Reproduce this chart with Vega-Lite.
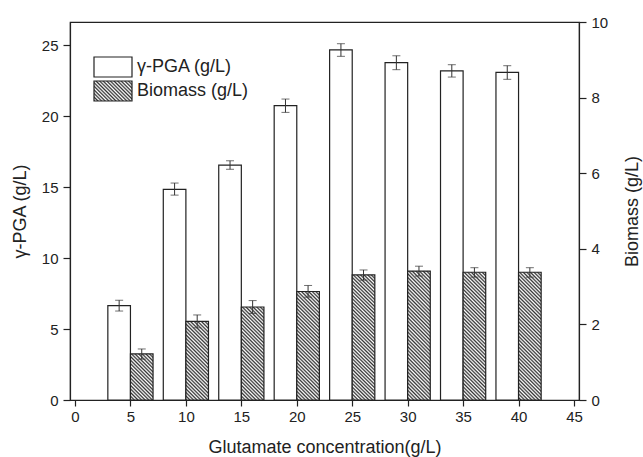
{
 "$schema": "https://vega.github.io/schema/vega-lite/v6.json",
 "width": 509, "height": 378,
 "autosize": {"type": "none"},
 "padding": {"left": 70, "top": 22, "right": 64, "bottom": 57},
 "background": "white",
 "config": {
  "font": "Liberation Sans",
  "view": {"stroke": "#222", "strokeWidth": 1.2},
  "axis": {"grid": false, "domainColor": "#222", "domainWidth": 1.2, "tickColor": "#222", "tickWidth": 1.2, "labelColor": "#222", "labelFont": "Liberation Sans", "labelFontSize": 15, "titleFont": "Liberation Sans", "titleFontSize": 18, "titleFontWeight": "normal", "titleColor": "#222", "labelOverlap": false, "labelFlush": false}
 },
 "data": {"values": [
  {"conc": 5, "pga": 6.65, "pga_lo": 6.27, "pga_hi": 7.03, "bio": 1.22, "bio_lo": 1.08, "bio_hi": 1.35},
  {"conc": 10, "pga": 14.85, "pga_lo": 14.44, "pga_hi": 15.29, "bio": 2.08, "bio_lo": 1.91, "bio_hi": 2.25},
  {"conc": 15, "pga": 16.56, "pga_lo": 16.26, "pga_hi": 16.86, "bio": 2.46, "bio_lo": 2.29, "bio_hi": 2.63},
  {"conc": 20, "pga": 20.74, "pga_lo": 20.27, "pga_hi": 21.21, "bio": 2.87, "bio_lo": 2.72, "bio_hi": 3.03},
  {"conc": 25, "pga": 24.67, "pga_lo": 24.22, "pga_hi": 25.11, "bio": 3.31, "bio_lo": 3.17, "bio_hi": 3.44},
  {"conc": 30, "pga": 23.77, "pga_lo": 23.28, "pga_hi": 24.26, "bio": 3.41, "bio_lo": 3.28, "bio_hi": 3.54},
  {"conc": 35, "pga": 23.19, "pga_lo": 22.76, "pga_hi": 23.63, "bio": 3.38, "bio_lo": 3.25, "bio_hi": 3.5},
  {"conc": 40, "pga": 23.09, "pga_lo": 22.6, "pga_hi": 23.56, "bio": 3.38, "bio_lo": 3.25, "bio_hi": 3.5}
 ]},
 "layer": [
  {"layer": [
   {"mark": {"type": "bar", "width": 22.6, "xOffset": -11.3, "fill": "white", "stroke": "#222", "strokeWidth": 1.2},
    "encoding": {
     "x": {"field": "conc", "type": "quantitative", "title": "Glutamate concentration(g/L)", "scale": {"domain": [0, 45], "nice": false},
      "axis": {"values": [0,2.5,5,7.5,10,12.5,15,17.5,20,22.5,25,27.5,30,32.5,35,37.5,40,42.5,45],
       "labelExpr": "datum.value % 5 === 0 ? '' + datum.value : ''",
       "tickSize": {"condition": {"test": "datum.value % 5 !== 0", "value": 4}, "value": 6},
       "labelPadding": 3, "titlePadding": 14}},
     "y": {"field": "pga", "type": "quantitative", "title": "γ-PGA (g/L)", "scale": {"domain": [0, 26.64], "nice": false},
      "axis": {"values": [0,2.5,5,7.5,10,12.5,15,17.5,20,22.5,25],
       "labelExpr": "datum.value % 5 === 0 ? '' + datum.value : ''",
       "tickSize": {"condition": {"test": "datum.value % 5 !== 0", "value": 4}, "value": 7},
       "labelPadding": 5, "titlePadding": 12}},
     "opacity": {"datum": "γ-PGA (g/L)", "type": "nominal",
      "scale": {"domain": ["γ-PGA (g/L)", "Biomass (g/L)"], "range": [1, 1]},
      "legend": {"orient": "none", "legendX": 23, "legendY": 34, "title": null, "padding": 0, "offset": 0,
       "symbolType": "M-1.9,-1H1.9V1H-1.9Z", "symbolSize": 400, "symbolOffset": 9,
       "symbolStrokeColor": "#222", "symbolStrokeWidth": 1.2,
       "labelFont": "Liberation Sans", "labelFontSize": 18, "labelColor": "#222", "labelOffset": 13, "rowPadding": -10,
       "encoding": {"symbols": {
        "stroke": {"value": "#222"}, "strokeWidth": {"value": 1.2},
        "fill": {"condition": {"test": "datum.value === 'Biomass (g/L)'", "value": {"gradient": "linear", "x1": 1, "y1": 0, "x2": -2.19, "y2": 1.679, "stops": [
{"offset":0,"color":"#333"},{"offset":0.0116,"color":"#fff"},{"offset":0.0233,"color":"#333"},{"offset":0.0349,"color":"#fff"},{"offset":0.0465,"color":"#333"},{"offset":0.0581,"color":"#fff"},{"offset":0.0698,"color":"#333"},{"offset":0.0814,"color":"#fff"},{"offset":0.093,"color":"#333"},{"offset":0.1047,"color":"#fff"},{"offset":0.1163,"color":"#333"},{"offset":0.1279,"color":"#fff"},{"offset":0.1395,"color":"#333"},{"offset":0.1512,"color":"#fff"},{"offset":0.1628,"color":"#333"},{"offset":0.1744,"color":"#fff"},{"offset":0.186,"color":"#333"},{"offset":0.1977,"color":"#fff"},{"offset":0.2093,"color":"#333"},{"offset":0.2209,"color":"#fff"},{"offset":0.2326,"color":"#333"},{"offset":0.2442,"color":"#fff"},{"offset":0.2558,"color":"#333"},{"offset":0.2674,"color":"#fff"},{"offset":0.2791,"color":"#333"},{"offset":0.2907,"color":"#fff"},{"offset":0.3023,"color":"#333"},{"offset":0.314,"color":"#fff"},{"offset":0.3256,"color":"#333"},{"offset":0.3372,"color":"#fff"},{"offset":0.3488,"color":"#333"},{"offset":0.3605,"color":"#fff"},{"offset":0.3721,"color":"#333"},{"offset":0.3837,"color":"#fff"},{"offset":0.3953,"color":"#333"}
        ]}}, "value": "white"}
       }}}}
    }},
   {"mark": {"type": "rule", "xOffset": -11.3, "color": "#333", "strokeWidth": 1},
    "encoding": {
     "x": {"field": "conc", "type": "quantitative", "title": "Glutamate concentration(g/L)", "scale": {"domain": [0, 45], "nice": false}},
     "y": {"field": "pga_lo", "type": "quantitative", "title": "γ-PGA (g/L)", "scale": {"domain": [0, 26.64], "nice": false}},
     "y2": {"field": "pga_hi"}}},
   {"mark": {"type": "tick", "orient": "horizontal", "xOffset": -11.3, "color": "#333", "size": 8, "thickness": 1},
    "encoding": {
     "x": {"field": "conc", "type": "quantitative", "title": "Glutamate concentration(g/L)", "scale": {"domain": [0, 45], "nice": false}},
     "y": {"field": "pga_lo", "type": "quantitative", "title": "γ-PGA (g/L)", "scale": {"domain": [0, 26.64], "nice": false}}}},
   {"mark": {"type": "tick", "orient": "horizontal", "xOffset": -11.3, "color": "#333", "size": 8, "thickness": 1},
    "encoding": {
     "x": {"field": "conc", "type": "quantitative", "title": "Glutamate concentration(g/L)", "scale": {"domain": [0, 45], "nice": false}},
     "y": {"field": "pga_hi", "type": "quantitative", "title": "γ-PGA (g/L)", "scale": {"domain": [0, 26.64], "nice": false}}}}
  ]},
  {"layer": [
   {"mark": {"type": "bar", "width": 22.6, "xOffset": 11.3, "stroke": "#222", "strokeWidth": 1.2},
    "encoding": {
     "x": {"field": "conc", "type": "quantitative", "title": "Glutamate concentration(g/L)", "scale": {"domain": [0, 45], "nice": false}},
     "y": {"field": "bio", "type": "quantitative", "title": "Biomass (g/L)", "scale": {"domain": [0, 10], "nice": false},
      "axis": {"orient": "right", "titleAngle": -90, "values": [0,1,2,3,4,5,6,7,8,9,10],
       "labelExpr": "datum.value % 2 === 0 ? '' + datum.value : ''",
       "tickSize": {"condition": {"test": "datum.value % 2 !== 0", "value": 4}, "value": 7},
       "labelPadding": 5, "titlePadding": 34}},
     "fill": {
      "condition": [
       {"test": "datum.conc === 5", "value": {"gradient": "linear", "x1": 1, "y1": 0, "x2": -0.327, "y2": 2.706, "stops": [
{"offset":0,"color":"#333"},{"offset":0.0116,"color":"#fff"},{"offset":0.0233,"color":"#333"},{"offset":0.0349,"color":"#fff"},{"offset":0.0465,"color":"#333"},{"offset":0.0581,"color":"#fff"},{"offset":0.0698,"color":"#333"},{"offset":0.0814,"color":"#fff"},{"offset":0.093,"color":"#333"},{"offset":0.1047,"color":"#fff"},{"offset":0.1163,"color":"#333"},{"offset":0.1279,"color":"#fff"},{"offset":0.1395,"color":"#333"},{"offset":0.1512,"color":"#fff"},{"offset":0.1628,"color":"#333"},{"offset":0.1744,"color":"#fff"},{"offset":0.186,"color":"#333"},{"offset":0.1977,"color":"#fff"},{"offset":0.2093,"color":"#333"},{"offset":0.2209,"color":"#fff"},{"offset":0.2326,"color":"#333"},{"offset":0.2442,"color":"#fff"},{"offset":0.2558,"color":"#333"},{"offset":0.2674,"color":"#fff"},{"offset":0.2791,"color":"#333"},{"offset":0.2907,"color":"#fff"},{"offset":0.3023,"color":"#333"},{"offset":0.314,"color":"#fff"},{"offset":0.3256,"color":"#333"},{"offset":0.3372,"color":"#fff"},{"offset":0.3488,"color":"#333"},{"offset":0.3605,"color":"#fff"},{"offset":0.3721,"color":"#333"},{"offset":0.3837,"color":"#fff"},{"offset":0.3953,"color":"#333"},{"offset":0.407,"color":"#fff"},{"offset":0.4186,"color":"#333"},{"offset":0.4302,"color":"#fff"},{"offset":0.4419,"color":"#333"},{"offset":0.4535,"color":"#fff"}
       ]}},
       {"test": "datum.conc === 10", "value": {"gradient": "linear", "x1": 1, "y1": 0, "x2": 0.4768, "y2": 1.8185, "stops": [
{"offset":0,"color":"#333"},{"offset":0.0116,"color":"#fff"},{"offset":0.0233,"color":"#333"},{"offset":0.0349,"color":"#fff"},{"offset":0.0465,"color":"#333"},{"offset":0.0581,"color":"#fff"},{"offset":0.0698,"color":"#333"},{"offset":0.0814,"color":"#fff"},{"offset":0.093,"color":"#333"},{"offset":0.1047,"color":"#fff"},{"offset":0.1163,"color":"#333"},{"offset":0.1279,"color":"#fff"},{"offset":0.1395,"color":"#333"},{"offset":0.1512,"color":"#fff"},{"offset":0.1628,"color":"#333"},{"offset":0.1744,"color":"#fff"},{"offset":0.186,"color":"#333"},{"offset":0.1977,"color":"#fff"},{"offset":0.2093,"color":"#333"},{"offset":0.2209,"color":"#fff"},{"offset":0.2326,"color":"#333"},{"offset":0.2442,"color":"#fff"},{"offset":0.2558,"color":"#333"},{"offset":0.2674,"color":"#fff"},{"offset":0.2791,"color":"#333"},{"offset":0.2907,"color":"#fff"},{"offset":0.3023,"color":"#333"},{"offset":0.314,"color":"#fff"},{"offset":0.3256,"color":"#333"},{"offset":0.3372,"color":"#fff"},{"offset":0.3488,"color":"#333"},{"offset":0.3605,"color":"#fff"},{"offset":0.3721,"color":"#333"},{"offset":0.3837,"color":"#fff"},{"offset":0.3953,"color":"#333"},{"offset":0.407,"color":"#fff"},{"offset":0.4186,"color":"#333"},{"offset":0.4302,"color":"#fff"},{"offset":0.4419,"color":"#333"},{"offset":0.4535,"color":"#fff"},{"offset":0.4651,"color":"#333"},{"offset":0.4767,"color":"#fff"},{"offset":0.4884,"color":"#333"},{"offset":0.5,"color":"#fff"},{"offset":0.5116,"color":"#333"},{"offset":0.5233,"color":"#fff"},{"offset":0.5349,"color":"#333"},{"offset":0.5465,"color":"#fff"},{"offset":0.5581,"color":"#333"},{"offset":0.5698,"color":"#fff"},{"offset":0.5814,"color":"#333"},{"offset":0.593,"color":"#fff"},{"offset":0.6047,"color":"#333"},{"offset":0.6163,"color":"#fff"},{"offset":0.6279,"color":"#333"},{"offset":0.6395,"color":"#fff"},{"offset":0.6512,"color":"#333"},{"offset":0.6628,"color":"#fff"}
       ]}},
       {"test": "datum.conc === 15", "value": {"gradient": "linear", "x1": 1, "y1": 0, "x2": 0.6177, "y2": 1.5717, "stops": [
{"offset":0,"color":"#333"},{"offset":0.0116,"color":"#fff"},{"offset":0.0233,"color":"#333"},{"offset":0.0349,"color":"#fff"},{"offset":0.0465,"color":"#333"},{"offset":0.0581,"color":"#fff"},{"offset":0.0698,"color":"#333"},{"offset":0.0814,"color":"#fff"},{"offset":0.093,"color":"#333"},{"offset":0.1047,"color":"#fff"},{"offset":0.1163,"color":"#333"},{"offset":0.1279,"color":"#fff"},{"offset":0.1395,"color":"#333"},{"offset":0.1512,"color":"#fff"},{"offset":0.1628,"color":"#333"},{"offset":0.1744,"color":"#fff"},{"offset":0.186,"color":"#333"},{"offset":0.1977,"color":"#fff"},{"offset":0.2093,"color":"#333"},{"offset":0.2209,"color":"#fff"},{"offset":0.2326,"color":"#333"},{"offset":0.2442,"color":"#fff"},{"offset":0.2558,"color":"#333"},{"offset":0.2674,"color":"#fff"},{"offset":0.2791,"color":"#333"},{"offset":0.2907,"color":"#fff"},{"offset":0.3023,"color":"#333"},{"offset":0.314,"color":"#fff"},{"offset":0.3256,"color":"#333"},{"offset":0.3372,"color":"#fff"},{"offset":0.3488,"color":"#333"},{"offset":0.3605,"color":"#fff"},{"offset":0.3721,"color":"#333"},{"offset":0.3837,"color":"#fff"},{"offset":0.3953,"color":"#333"},{"offset":0.407,"color":"#fff"},{"offset":0.4186,"color":"#333"},{"offset":0.4302,"color":"#fff"},{"offset":0.4419,"color":"#333"},{"offset":0.4535,"color":"#fff"},{"offset":0.4651,"color":"#333"},{"offset":0.4767,"color":"#fff"},{"offset":0.4884,"color":"#333"},{"offset":0.5,"color":"#fff"},{"offset":0.5116,"color":"#333"},{"offset":0.5233,"color":"#fff"},{"offset":0.5349,"color":"#333"},{"offset":0.5465,"color":"#fff"},{"offset":0.5581,"color":"#333"},{"offset":0.5698,"color":"#fff"},{"offset":0.5814,"color":"#333"},{"offset":0.593,"color":"#fff"},{"offset":0.6047,"color":"#333"},{"offset":0.6163,"color":"#fff"},{"offset":0.6279,"color":"#333"},{"offset":0.6395,"color":"#fff"},{"offset":0.6512,"color":"#333"},{"offset":0.6628,"color":"#fff"},{"offset":0.6744,"color":"#333"},{"offset":0.686,"color":"#fff"},{"offset":0.6977,"color":"#333"},{"offset":0.7093,"color":"#fff"},{"offset":0.7209,"color":"#333"},{"offset":0.7326,"color":"#fff"},{"offset":0.7442,"color":"#333"},{"offset":0.7558,"color":"#fff"}
       ]}},
       {"test": "datum.conc === 20", "value": {"gradient": "linear", "x1": 1, "y1": 0, "x2": 0.7149, "y2": 1.3674, "stops": [
{"offset":0,"color":"#333"},{"offset":0.0116,"color":"#fff"},{"offset":0.0233,"color":"#333"},{"offset":0.0349,"color":"#fff"},{"offset":0.0465,"color":"#333"},{"offset":0.0581,"color":"#fff"},{"offset":0.0698,"color":"#333"},{"offset":0.0814,"color":"#fff"},{"offset":0.093,"color":"#333"},{"offset":0.1047,"color":"#fff"},{"offset":0.1163,"color":"#333"},{"offset":0.1279,"color":"#fff"},{"offset":0.1395,"color":"#333"},{"offset":0.1512,"color":"#fff"},{"offset":0.1628,"color":"#333"},{"offset":0.1744,"color":"#fff"},{"offset":0.186,"color":"#333"},{"offset":0.1977,"color":"#fff"},{"offset":0.2093,"color":"#333"},{"offset":0.2209,"color":"#fff"},{"offset":0.2326,"color":"#333"},{"offset":0.2442,"color":"#fff"},{"offset":0.2558,"color":"#333"},{"offset":0.2674,"color":"#fff"},{"offset":0.2791,"color":"#333"},{"offset":0.2907,"color":"#fff"},{"offset":0.3023,"color":"#333"},{"offset":0.314,"color":"#fff"},{"offset":0.3256,"color":"#333"},{"offset":0.3372,"color":"#fff"},{"offset":0.3488,"color":"#333"},{"offset":0.3605,"color":"#fff"},{"offset":0.3721,"color":"#333"},{"offset":0.3837,"color":"#fff"},{"offset":0.3953,"color":"#333"},{"offset":0.407,"color":"#fff"},{"offset":0.4186,"color":"#333"},{"offset":0.4302,"color":"#fff"},{"offset":0.4419,"color":"#333"},{"offset":0.4535,"color":"#fff"},{"offset":0.4651,"color":"#333"},{"offset":0.4767,"color":"#fff"},{"offset":0.4884,"color":"#333"},{"offset":0.5,"color":"#fff"},{"offset":0.5116,"color":"#333"},{"offset":0.5233,"color":"#fff"},{"offset":0.5349,"color":"#333"},{"offset":0.5465,"color":"#fff"},{"offset":0.5581,"color":"#333"},{"offset":0.5698,"color":"#fff"},{"offset":0.5814,"color":"#333"},{"offset":0.593,"color":"#fff"},{"offset":0.6047,"color":"#333"},{"offset":0.6163,"color":"#fff"},{"offset":0.6279,"color":"#333"},{"offset":0.6395,"color":"#fff"},{"offset":0.6512,"color":"#333"},{"offset":0.6628,"color":"#fff"},{"offset":0.6744,"color":"#333"},{"offset":0.686,"color":"#fff"},{"offset":0.6977,"color":"#333"},{"offset":0.7093,"color":"#fff"},{"offset":0.7209,"color":"#333"},{"offset":0.7326,"color":"#fff"},{"offset":0.7442,"color":"#333"},{"offset":0.7558,"color":"#fff"},{"offset":0.7674,"color":"#333"},{"offset":0.7791,"color":"#fff"},{"offset":0.7907,"color":"#333"},{"offset":0.8023,"color":"#fff"},{"offset":0.814,"color":"#333"},{"offset":0.8256,"color":"#fff"},{"offset":0.8372,"color":"#333"},{"offset":0.8488,"color":"#fff"},{"offset":0.8605,"color":"#333"}
       ]}}
      ],
      "value": {"gradient": "linear", "x1": 1, "y1": 0, "x2": 0.7909, "y2": 1.1778, "stops": [
{"offset":0,"color":"#333"},{"offset":0.0116,"color":"#fff"},{"offset":0.0233,"color":"#333"},{"offset":0.0349,"color":"#fff"},{"offset":0.0465,"color":"#333"},{"offset":0.0581,"color":"#fff"},{"offset":0.0698,"color":"#333"},{"offset":0.0814,"color":"#fff"},{"offset":0.093,"color":"#333"},{"offset":0.1047,"color":"#fff"},{"offset":0.1163,"color":"#333"},{"offset":0.1279,"color":"#fff"},{"offset":0.1395,"color":"#333"},{"offset":0.1512,"color":"#fff"},{"offset":0.1628,"color":"#333"},{"offset":0.1744,"color":"#fff"},{"offset":0.186,"color":"#333"},{"offset":0.1977,"color":"#fff"},{"offset":0.2093,"color":"#333"},{"offset":0.2209,"color":"#fff"},{"offset":0.2326,"color":"#333"},{"offset":0.2442,"color":"#fff"},{"offset":0.2558,"color":"#333"},{"offset":0.2674,"color":"#fff"},{"offset":0.2791,"color":"#333"},{"offset":0.2907,"color":"#fff"},{"offset":0.3023,"color":"#333"},{"offset":0.314,"color":"#fff"},{"offset":0.3256,"color":"#333"},{"offset":0.3372,"color":"#fff"},{"offset":0.3488,"color":"#333"},{"offset":0.3605,"color":"#fff"},{"offset":0.3721,"color":"#333"},{"offset":0.3837,"color":"#fff"},{"offset":0.3953,"color":"#333"},{"offset":0.407,"color":"#fff"},{"offset":0.4186,"color":"#333"},{"offset":0.4302,"color":"#fff"},{"offset":0.4419,"color":"#333"},{"offset":0.4535,"color":"#fff"},{"offset":0.4651,"color":"#333"},{"offset":0.4767,"color":"#fff"},{"offset":0.4884,"color":"#333"},{"offset":0.5,"color":"#fff"},{"offset":0.5116,"color":"#333"},{"offset":0.5233,"color":"#fff"},{"offset":0.5349,"color":"#333"},{"offset":0.5465,"color":"#fff"},{"offset":0.5581,"color":"#333"},{"offset":0.5698,"color":"#fff"},{"offset":0.5814,"color":"#333"},{"offset":0.593,"color":"#fff"},{"offset":0.6047,"color":"#333"},{"offset":0.6163,"color":"#fff"},{"offset":0.6279,"color":"#333"},{"offset":0.6395,"color":"#fff"},{"offset":0.6512,"color":"#333"},{"offset":0.6628,"color":"#fff"},{"offset":0.6744,"color":"#333"},{"offset":0.686,"color":"#fff"},{"offset":0.6977,"color":"#333"},{"offset":0.7093,"color":"#fff"},{"offset":0.7209,"color":"#333"},{"offset":0.7326,"color":"#fff"},{"offset":0.7442,"color":"#333"},{"offset":0.7558,"color":"#fff"},{"offset":0.7674,"color":"#333"},{"offset":0.7791,"color":"#fff"},{"offset":0.7907,"color":"#333"},{"offset":0.8023,"color":"#fff"},{"offset":0.814,"color":"#333"},{"offset":0.8256,"color":"#fff"},{"offset":0.8372,"color":"#333"},{"offset":0.8488,"color":"#fff"},{"offset":0.8605,"color":"#333"},{"offset":0.8721,"color":"#fff"},{"offset":0.8837,"color":"#333"},{"offset":0.8953,"color":"#fff"},{"offset":0.907,"color":"#333"},{"offset":0.9186,"color":"#fff"},{"offset":0.9302,"color":"#333"},{"offset":0.9419,"color":"#fff"},{"offset":0.9535,"color":"#333"},{"offset":0.9651,"color":"#fff"},{"offset":0.9767,"color":"#333"},{"offset":0.9884,"color":"#fff"},{"offset":1,"color":"#333"}
      ]}
     }
    }},
   {"mark": {"type": "rule", "xOffset": 11.3, "color": "#333", "strokeWidth": 1},
    "encoding": {
     "x": {"field": "conc", "type": "quantitative", "title": "Glutamate concentration(g/L)", "scale": {"domain": [0, 45], "nice": false}},
     "y": {"field": "bio_lo", "type": "quantitative", "title": "Biomass (g/L)", "scale": {"domain": [0, 10], "nice": false}},
     "y2": {"field": "bio_hi"}}},
   {"mark": {"type": "tick", "orient": "horizontal", "xOffset": 11.3, "color": "#333", "size": 8, "thickness": 1},
    "encoding": {
     "x": {"field": "conc", "type": "quantitative", "title": "Glutamate concentration(g/L)", "scale": {"domain": [0, 45], "nice": false}},
     "y": {"field": "bio_lo", "type": "quantitative", "title": "Biomass (g/L)", "scale": {"domain": [0, 10], "nice": false}}}},
   {"mark": {"type": "tick", "orient": "horizontal", "xOffset": 11.3, "color": "#333", "size": 8, "thickness": 1},
    "encoding": {
     "x": {"field": "conc", "type": "quantitative", "title": "Glutamate concentration(g/L)", "scale": {"domain": [0, 45], "nice": false}},
     "y": {"field": "bio_hi", "type": "quantitative", "title": "Biomass (g/L)", "scale": {"domain": [0, 10], "nice": false}}}}
  ]}
 ],
 "resolve": {"scale": {"y": "independent"}}
}
